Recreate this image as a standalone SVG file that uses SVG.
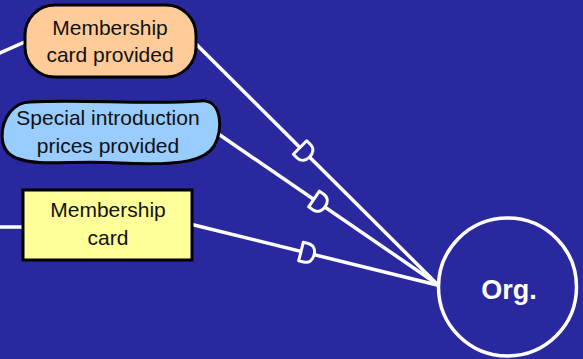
<svg xmlns="http://www.w3.org/2000/svg" width="583" height="359" viewBox="0 0 583 359">
  <style>
    .bg { fill: #2A289E; }
    .link { stroke: #FFFFFF; stroke-width: 3.5; fill: none; stroke-linecap: round; }
    .node { stroke: #000000; stroke-width: 3; }
    .label { font-family: "Liberation Sans", Arial, sans-serif; font-size: 21px; fill: #111111; text-anchor: middle; }
    .tick { fill: #2A289E; stroke: #FFFFFF; stroke-width: 3; stroke-linejoin: round; }
  </style>
  <defs>
    <!-- one-side bar marker drawn across a connector, flat side facing the source -->
    <path id="dtick" d="M0,-9.5 L0,9.5 L5,9.5 C11,9.5 13.5,5 13.5,0 C13.5,-5 11,-9.5 5,-9.5 Z"/>
  </defs>

  <rect class="bg" x="0" y="0" width="583" height="359"/>

  <g id="connectors">
    <line class="link" x1="0" y1="53" x2="27" y2="41"/>
    <line class="link" x1="0" y1="227" x2="23" y2="227"/>
    <line class="link" x1="192" y1="40" x2="437" y2="284"/>
    <line class="link" x1="217" y1="133" x2="437" y2="284"/>
    <line class="link" x1="190" y1="224" x2="437" y2="285"/>
    <use href="#dtick" class="tick" transform="translate(300,147.5) rotate(44.8)"/>
    <use href="#dtick" class="tick" transform="translate(314,199) rotate(34.4)"/>
    <use href="#dtick" class="tick" transform="translate(301,251.5) rotate(13.9)"/>
  </g>

  <g id="membership-card-provided">
    <rect class="node" x="25" y="5" width="171" height="72" rx="30" ry="30" fill="#FFCC99"/>
    <text class="label" x="110" y="35">Membership</text>
    <text class="label" x="110" y="62">card provided</text>
  </g>

  <g id="special-introduction-prices">
    <path class="node" fill="#99CCFF" d="M30,102 C80,99 150,105 200,101 C222,98 224,130 214,146 C205,160 185,166 120,163 C70,160 40,167 16,158 C-3,150 0,125 10,112 C16,105 22,102 30,102 Z"/>
    <text class="label" x="108" y="125">Special introduction</text>
    <text class="label" x="108" y="153">prices provided</text>
  </g>

  <g id="membership-card">
    <rect class="node" x="23" y="190" width="169" height="70" fill="#FFFF99"/>
    <text class="label" x="108" y="217">Membership</text>
    <text class="label" x="108" y="245">card</text>
  </g>

  <g id="org">
    <circle cx="507.5" cy="287" r="69" fill="#2A289E" stroke="#FFFFFF" stroke-width="3.5"/>
    <text x="509" y="299" font-family="Liberation Sans, Arial, sans-serif" font-size="27" font-weight="bold" fill="#FFFFFF" text-anchor="middle">Org.</text>
  </g>
</svg>
